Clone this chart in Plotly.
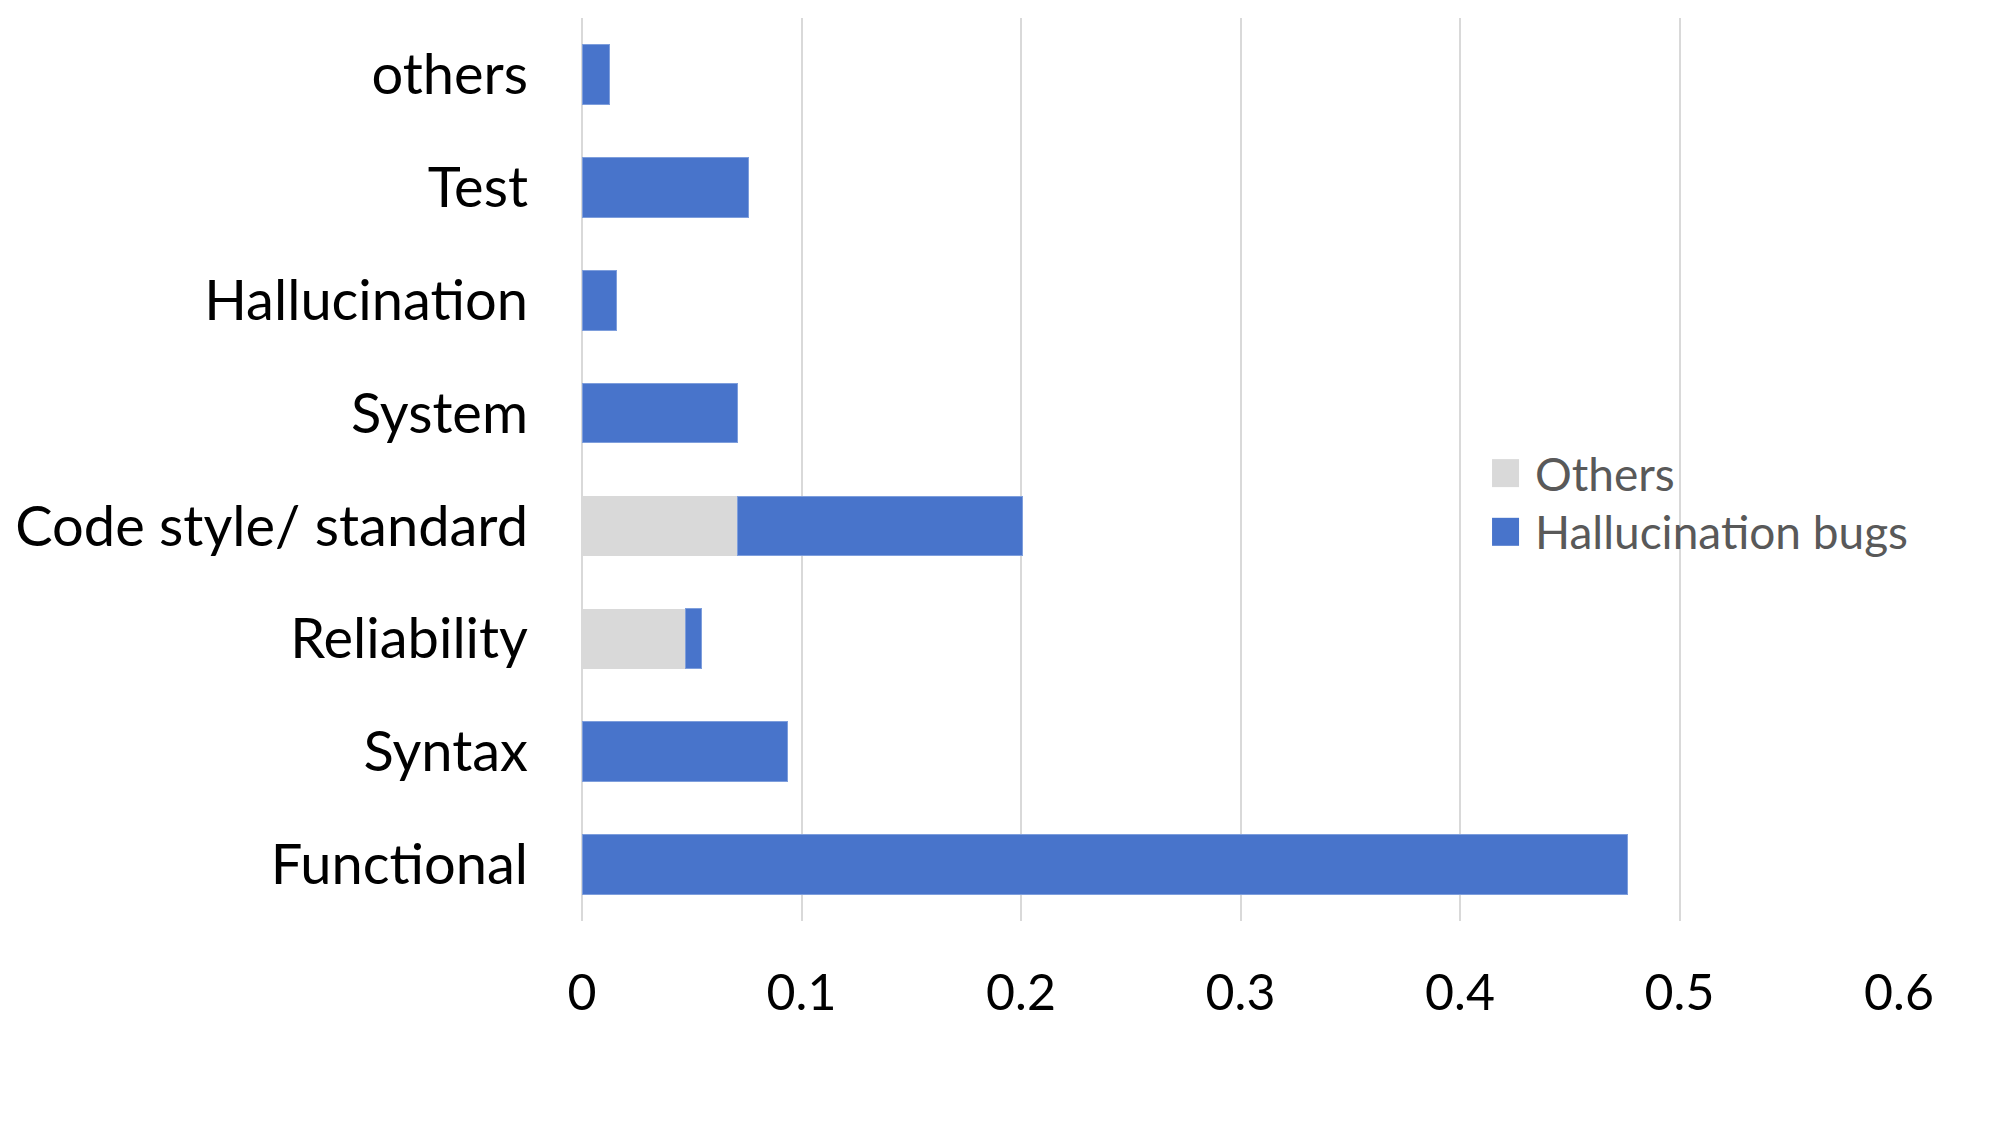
import plotly.graph_objects as go

# categories, bottom to top
categories = ["Functional", "Syntax", "Reliability", "Code style/ standard",
              "System", "Hallucination", "Test", "others"]
others_vals = [0, 0, 0.0472, 0.0708, 0, 0, 0, 0]
halluc_vals = [0.4762, 0.0935, 0.0073, 0.130, 0.0708, 0.0159, 0.0758, 0.0124]
x_ticks = [0, 0.1, 0.2, 0.3, 0.4, 0.5, 0.6]
legend_names = ["Others", "Hallucination bugs"]

GRAY = "#D9D9D9"
BLUE = "#4874CB"
FONT = "Lato"

fig = go.Figure()
fig.add_trace(go.Bar(y=categories, x=others_vals, orientation="h", name=legend_names[0],
                     marker=dict(color=GRAY, line=dict(width=0))))
fig.add_trace(go.Bar(y=categories, x=halluc_vals, orientation="h", name=legend_names[1],
                     marker=dict(color=BLUE, line=dict(width=1, color="#7E9EDC"))))

# hand-made legend so the swatches can be as big as in the original
for i, (name, col) in enumerate(zip(legend_names, [GRAY, BLUE])):
    yc = 0.496 - i * 0.065
    fig.add_shape(type="rect", xref="paper", yref="paper",
                  x0=0.691, x1=0.7115, y0=yc - 0.0155, y1=yc + 0.0155,
                  fillcolor=col, line=dict(width=0))
    fig.add_annotation(x=0.722, y=yc, xref="paper", yref="paper", text=name,
                       showarrow=False, xanchor="left", yanchor="middle",
                       font=dict(family=FONT, size=46, color="#595959"))

# margins account for the 8px page margin of the html body
fig.update_layout(
    barmode="stack",
    bargap=0.47,
    width=2000, height=1125,
    margin=dict(l=574, r=109, t=10, b=212),
    plot_bgcolor="white", paper_bgcolor="white",
    showlegend=False,
    font=dict(family=FONT, color="black"),
)
fig.update_xaxes(range=[0, 0.6], tickvals=x_ticks, ticktext=[str(v) for v in x_ticks],
                 showgrid=True, gridcolor=GRAY, gridwidth=1.5,
                 zeroline=True, zerolinecolor=GRAY, zerolinewidth=1.5,
                 showline=False, ticks="", automargin=False,
                 ticklabelstandoff=38, tickfont=dict(size=50, family=FONT))
fig.update_yaxes(categoryorder="array", categoryarray=categories,
                 showgrid=False, zeroline=False, showline=False, ticks="",
                 automargin=False,
                 ticklabelstandoff=53, tickfont=dict(size=56, family=FONT))

fig.write_html("out.html")
